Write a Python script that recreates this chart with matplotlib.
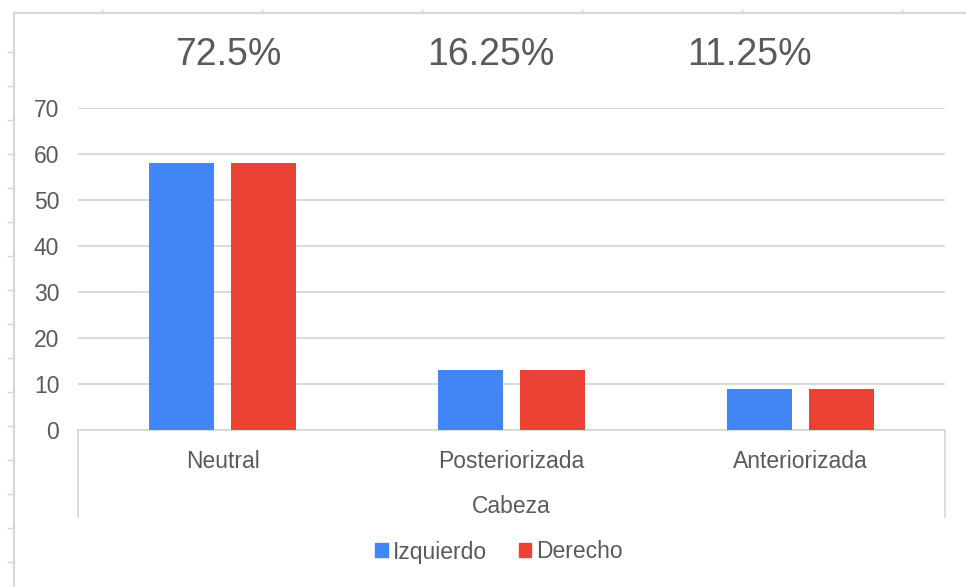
import numpy as np
import matplotlib.pyplot as plt
from matplotlib.lines import Line2D
from matplotlib.patches import Patch

plt.rcParams["font.family"] = ["Liberation Sans", "DejaVu Sans"]

categories = ["Neutral", "Posteriorizada", "Anteriorizada"]
izquierdo = [58, 13, 9]
derecho = [58, 13, 9]
percent_labels = ["72.5%", "16.25%", "11.25%"]
y_ticks = [0, 10, 20, 30, 40, 50, 60, 70]

blue = "#4285f4"
red = "#ea4335"
text_gray = "#5a5a5a"
grid_gray = "#d6d6d6"

fig = plt.figure(figsize=(9.66, 5.87), dpi=100)
ax = fig.add_axes([78 / 966, 1 - 430 / 587, (945 - 78) / 966, (430 - 108) / 587])

x = np.arange(len(categories))
w = 0.228
off = 0.142
ax.bar(x - off, izquierdo, width=w, color=blue, label="Izquierdo", zorder=3)
ax.bar(x + off, derecho, width=w, color=red, label="Derecho", zorder=3)

ax.set_xlim(-0.5, len(categories) - 0.5)
ax.set_ylim(0, 70)
ax.set_yticks(y_ticks)
ax.yaxis.grid(True, color=grid_gray, linewidth=1.2)
ax.set_axisbelow(True)
for s in ["top", "right", "left"]:
    ax.spines[s].set_visible(False)
ax.spines["bottom"].set_color(grid_gray)
ax.spines["bottom"].set_linewidth(1.2)
ax.tick_params(axis="y", length=0, pad=13.5, labelsize=16.5, labelcolor=text_gray)
ax.tick_params(axis="x", length=0, pad=14.5, labelsize=16.5, labelcolor=text_gray)
ax.set_xticks(x)
ax.set_xticklabels(categories)
ax.set_xlabel("Cabeza", fontsize=16.5, color=text_gray, labelpad=16)

# group separators of the category axis
for xs in [0, 1]:
    ax.add_line(Line2D([xs, xs], [0, -0.27], transform=ax.transAxes, color=grid_gray,
                       linewidth=1.2, clip_on=False))

# percentage labels above the plot
for xa, txt in zip([0.173, 0.476, 0.775], percent_labels):
    ax.text(xa, 1.165, txt, transform=ax.transAxes, ha="center", va="center",
            fontsize=27, color=text_gray)

handles = [Patch(color=blue, label="Izquierdo"), Patch(color=red, label="Derecho")]
fig.legend(handles=handles, loc="center", bbox_to_anchor=(499 / 966, 1 - 552 / 587), ncol=2,
           frameon=False, fontsize=16.5, handlelength=0.55, handleheight=0.55,
           handletextpad=0.2, columnspacing=1.4, labelcolor=text_gray)

# spreadsheet frame edges
fc = "#d6d6d6"
fig.add_artist(Line2D([14 / 966, 14 / 966], [0, 1 - 13 / 587], color=fc, linewidth=1.5))
fig.add_artist(Line2D([14 / 966, 1], [1 - 13 / 587, 1 - 13 / 587], color=fc, linewidth=1.5))
for yp in range(52, 587, 34):
    fig.add_artist(Line2D([8 / 966, 14 / 966], [1 - yp / 587, 1 - yp / 587], color=fc, linewidth=1))
for xp in range(102, 966, 160):
    fig.add_artist(Line2D([xp / 966, xp / 966], [1 - 10 / 587, 1 - 13 / 587], color=fc, linewidth=1))

fig.savefig("out.png", dpi=100)
